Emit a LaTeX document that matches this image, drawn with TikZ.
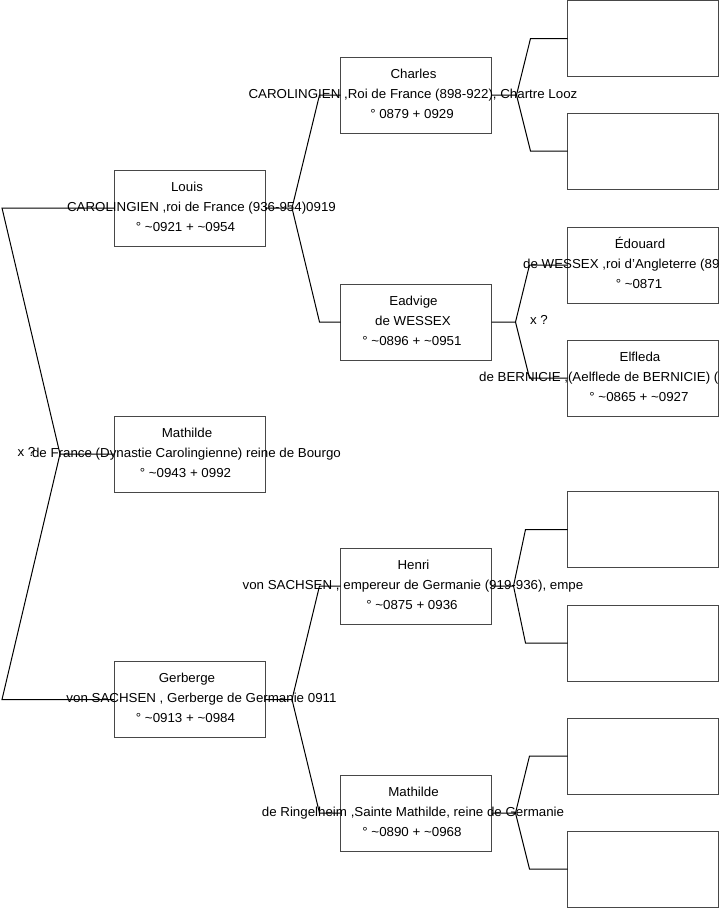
\documentclass[tikz,border=0pt]{standalone}
\usepackage{fontspec}
\setmainfont[FakeStretch=1.025]{Liberation Sans}
\usetikzlibrary{calc}
\tikzset{
  pbox/.style={draw=black!72, line width=1bp, minimum width=151bp, minimum height=76bp, inner sep=0pt, outer sep=0pt},
  ptxt/.style={anchor=base, inner sep=0pt, font=\fontsize{13bp}{15bp}\selectfont},
  ptxtw/.style={anchor=base west, inner sep=0pt, font=\fontsize{13bp}{15bp}\selectfont},
  link/.style={draw=black, line width=1bp, line join=miter}
}
% name, cx, cy, line1, line2, line3, x offset of line2
\newcommand\pers[7]{%
  \node[pbox] (#1) at (#2,#3) {};
  \node[ptxt] (#1-a) at (#2-2.5,#3-17) {#4};
  \node[ptxt] (#1-b) at (#2+#7,#3+3) {#5};
  \node[ptxt] (#1-c) at (#2-4,#3+23) {#6};
}
% name, cx, cy, line1, x of line2, line2, line3
\newcommand\persW[7]{%
  \node[pbox] (#1) at (#2,#3) {};
  \node[ptxt] (#1-a) at (#2-3,#3-17) {#4};
  \node[ptxtw] (#1-b) at (#5,#3+3) {#6};
  \node[ptxt] (#1-c) at (#2-4,#3+23) {#7};
}
% fork from box A (east side) to boxes B and C
\newcommand\forkR[5]{% from, to1, to2, fork len, corner offset
  \draw[link] (#1.east) -- ++(#4,0) -- ($(#2.west)+(-#5,0)$) -- (#2.west);
  \draw[link] ($(#1.east)+(#4,0)$) -- ($(#3.west)+(-#5,0)$) -- (#3.west);
}
\begin{document}
\begin{tikzpicture}[x=1bp,y=-1bp]
\useasboundingbox (0,0) rectangle (719,908);
\clip (0,0) rectangle (719,908);

% column 1
\pers{louis}{189.5}{208}{Louis}{CAROLINGIEN ,roi de France (936-954)0919}{° \textasciitilde0921 + \textasciitilde0954}{12}
\pers{mathilde}{189.5}{454}{Mathilde}{de France (Dynastie Carolingienne) reine de Bourgo}{° \textasciitilde0943 + 0992}{-3}
\pers{gerberge}{189.5}{699.5}{Gerberge}{von SACHSEN , Gerberge de Germanie 0911}{° \textasciitilde0913 + \textasciitilde0984}{12}

% column 2
\pers{charles}{416}{95}{Charles}{CAROLINGIEN ,Roi de France (898-922), Chartre Looz}{° 0879 + 0929}{-3}
\pers{eadvige}{416}{322}{Eadvige}{de WESSEX}{° \textasciitilde0896 + \textasciitilde0951}{-3}
\pers{henri}{416}{586}{Henri}{von SACHSEN , empereur de Germanie (919-936), empe}{° \textasciitilde0875 + 0936}{-3}
\pers{mathr}{416}{813}{Mathilde}{de Ringelheim ,Sainte Mathilde, reine de Germanie}{° \textasciitilde0890 + \textasciitilde0968}{-3}

% column 3
\node[pbox] (charlesF) at (643,38.5) {};
\node[pbox] (charlesM) at (643,151) {};
\persW{edouard}{643}{265}{Édouard}{523}{de WESSEX ,roi d'Angleterre (89}{° \textasciitilde0871}
\persW{elfleda}{643}{378}{Elfleda}{479}{de BERNICIE ,(Aelflede de BERNICIE) (}{° \textasciitilde0865 + \textasciitilde0927}
\node[pbox] (henriF) at (643,529.5) {};
\node[pbox] (henriM) at (643,643) {};
\node[pbox] (mathrF) at (643,756) {};
\node[pbox] (mathrM) at (643,869) {};

% marriage labels
\node[ptxt] (x1) at (26.5,456) {x ?};
\node[ptxt] (x2) at (539,324) {x ?};

% root fork (to the left)
\draw[link] (mathilde.west) -- ++(-54,0) coordinate (rf) -- ($(louis.west)+(-112,0)$) -- (louis.west);
\draw[link] (rf) -- ($(gerberge.west)+(-112,0)$) -- (gerberge.west);

% parent forks
\forkR{louis}{charles}{eadvige}{27}{21}
\forkR{gerberge}{henri}{mathr}{27}{21}
\forkR{charles}{charlesF}{charlesM}{25}{37}
\forkR{eadvige}{edouard}{elfleda}{24}{38}
\forkR{henri}{henriF}{henriM}{22}{42}
\forkR{mathr}{mathrF}{mathrM}{24}{38}
\end{tikzpicture}
\end{document}
